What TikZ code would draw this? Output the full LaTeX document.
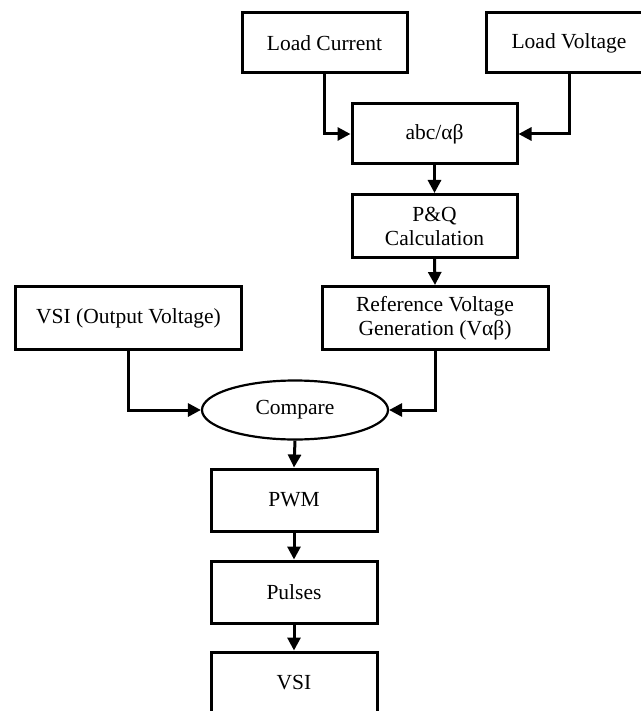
\documentclass[tikz,border=0pt]{standalone}
\usepackage{fontspec}
\setmainfont{Liberation Serif}
\usetikzlibrary{arrows.meta,shapes.geometric}
\begin{document}
\begin{tikzpicture}[x=1pt,y=-1pt,
  every node/.style={font=\fontsize{21.5}{24}\selectfont},
  blk/.style={draw,line width=3pt,rectangle,minimum width=165pt,minimum height=60pt,inner sep=0pt,align=center},
  oval/.style={draw,line width=2.2pt,ellipse,minimum width=186pt,minimum height=59pt,inner sep=0pt},
  arr/.style={line width=3pt,-{Triangle[length=13pt,width=13pt]}}]
\useasboundingbox (0,0) rectangle (640,711);
\node[blk] (lc) at (324.5,43) {Load Current};
\node[blk,minimum width=166pt] (lv) at (569,43) {Load Voltage};
\node[blk] (abc) at (434.5,134) {abc/αβ};
\node[blk,minimum height=63pt] (pq) at (434.5,226) {P\&Q\\Calculation};
\node[blk,minimum width=226pt,minimum height=63pt] (ref) at (435,318) {Reference Voltage\\Generation (Vαβ)};
\node[blk,minimum width=226pt,minimum height=63pt] (vsio) at (128.5,318) {VSI (Output Voltage)};
\node[oval] (cmp) at (295,410) {Compare};
\node[blk,minimum width=166pt,minimum height=62pt] (pwm) at (294,500) {PWM};
\node[blk,minimum width=166pt,minimum height=62pt] (pul) at (294,592) {Pulses};
\node[blk,minimum width=166pt,minimum height=62pt] (vsi) at (294,683) {VSI};
\draw[arr] (lc.south) |- (abc.west);
\draw[arr] (lv.south) |- (abc.east);
\draw[arr] (abc.south) -- (pq.north);
\draw[arr] (pq.south) -- (ref.north);
\draw[arr] (vsio.south) |- (cmp.west);
\draw[arr] (ref.south) |- (cmp.east);
\draw[arr] (cmp.south) -- (pwm.north);
\draw[arr] (pwm.south) -- (pul.north);
\draw[arr] (pul.south) -- (vsi.north);
\end{tikzpicture}
\end{document}
